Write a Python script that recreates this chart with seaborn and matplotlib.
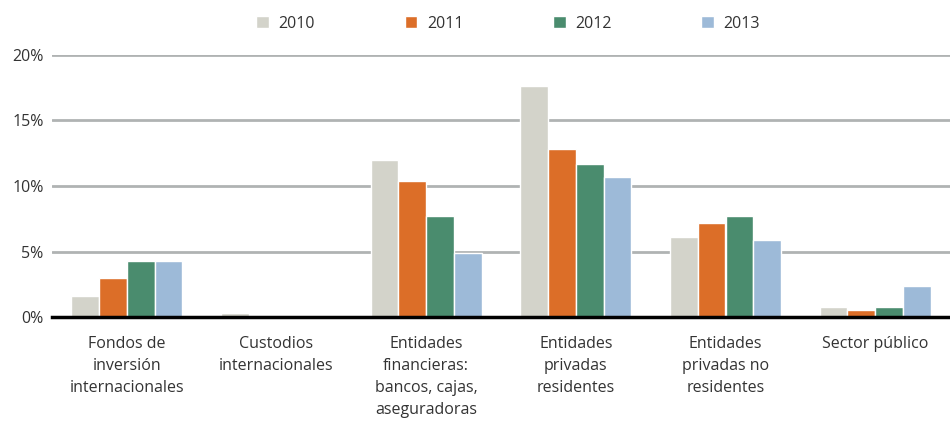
import numpy as np
import pandas as pd
import matplotlib
matplotlib.use('Agg')
import matplotlib.pyplot as plt
import seaborn as sns

# Datos (porcentaje)
categorias = ['Fondos de\ninversión\ninternacionales',
              'Custodios\ninternacionales',
              'Entidades\nfinancieras:\nbancos, cajas,\naseguradoras',
              'Entidades\nprivadas\nresidentes',
              'Entidades\nprivadas no\nresidentes',
              'Sector público']
anios = ['2010', '2011', '2012', '2013']
v2010 = [1.6, 0.3, 12.0, 17.6, 6.1, 0.8]
v2011 = [3.0, 0.0, 10.4, 12.8, 7.2, 0.5]
v2012 = [4.3, 0.0, 7.7, 11.7, 7.7, 0.8]
v2013 = [4.3, 0.0, 4.9, 10.7, 5.9, 2.4]
colores = ['#d3d3ca', '#dc6e28', '#4a8c6e', '#9dbad8']

rows = []
for anio, vals in zip(anios, [v2010, v2011, v2012, v2013]):
    for cat, v in zip(categorias, vals):
        rows.append({'categoria': cat, 'anio': anio, 'valor': v})
df = pd.DataFrame(rows)

sns.set_style('white')
plt.rcParams['font.family'] = ['Open Sans', 'DejaVu Sans']

fig = plt.figure(figsize=(9.5, 4.21), dpi=100)
ax = fig.add_axes([52 / 950, 1 - 317 / 421, 1 - 52 / 950, (317 - 55) / 421])

sns.barplot(data=df, x='categoria', y='valor', hue='anio', palette=colores,
            order=categorias, hue_order=anios, width=0.74, gap=0,
            saturation=1, ax=ax, legend=True)

ax.set_ylim(0, 20)
ax.set_xlim(-0.5, len(categorias) - 0.5)
ax.set_yticks([0, 5, 10, 15, 20])
ax.set_yticklabels(['0%', '5%', '10%', '15%', '20%'])
ax.set_xlabel('')
ax.set_ylabel('')
ax.yaxis.grid(True, color='#b0b3b3', linewidth=2)
ax.set_axisbelow(True)
for s in ['top', 'right', 'left']:
    ax.spines[s].set_visible(False)
ax.spines['bottom'].set_color('black')
ax.spines['bottom'].set_linewidth(2.5)
ax.spines['bottom'].set_zorder(5)
ax.tick_params(axis='both', length=0, colors='#333333', labelsize=11.5)
ax.tick_params(axis='x', pad=14)
for t in ax.get_xticklabels():
    t.set_linespacing(1.5)
    t.set_verticalalignment('top')
ax.tick_params(axis='y', pad=6)

handles, labels = ax.get_legend_handles_labels()
ax.get_legend().remove()
fig.legend(handles, labels, loc='center', bbox_to_anchor=(0.535, 0.944),
           ncol=4, frameon=False, fontsize=11.5, handlelength=0.8,
           handleheight=0.8, handletextpad=0.6, columnspacing=5.6,
           labelcolor='#333333')

fig.savefig('out.png', dpi=100)
